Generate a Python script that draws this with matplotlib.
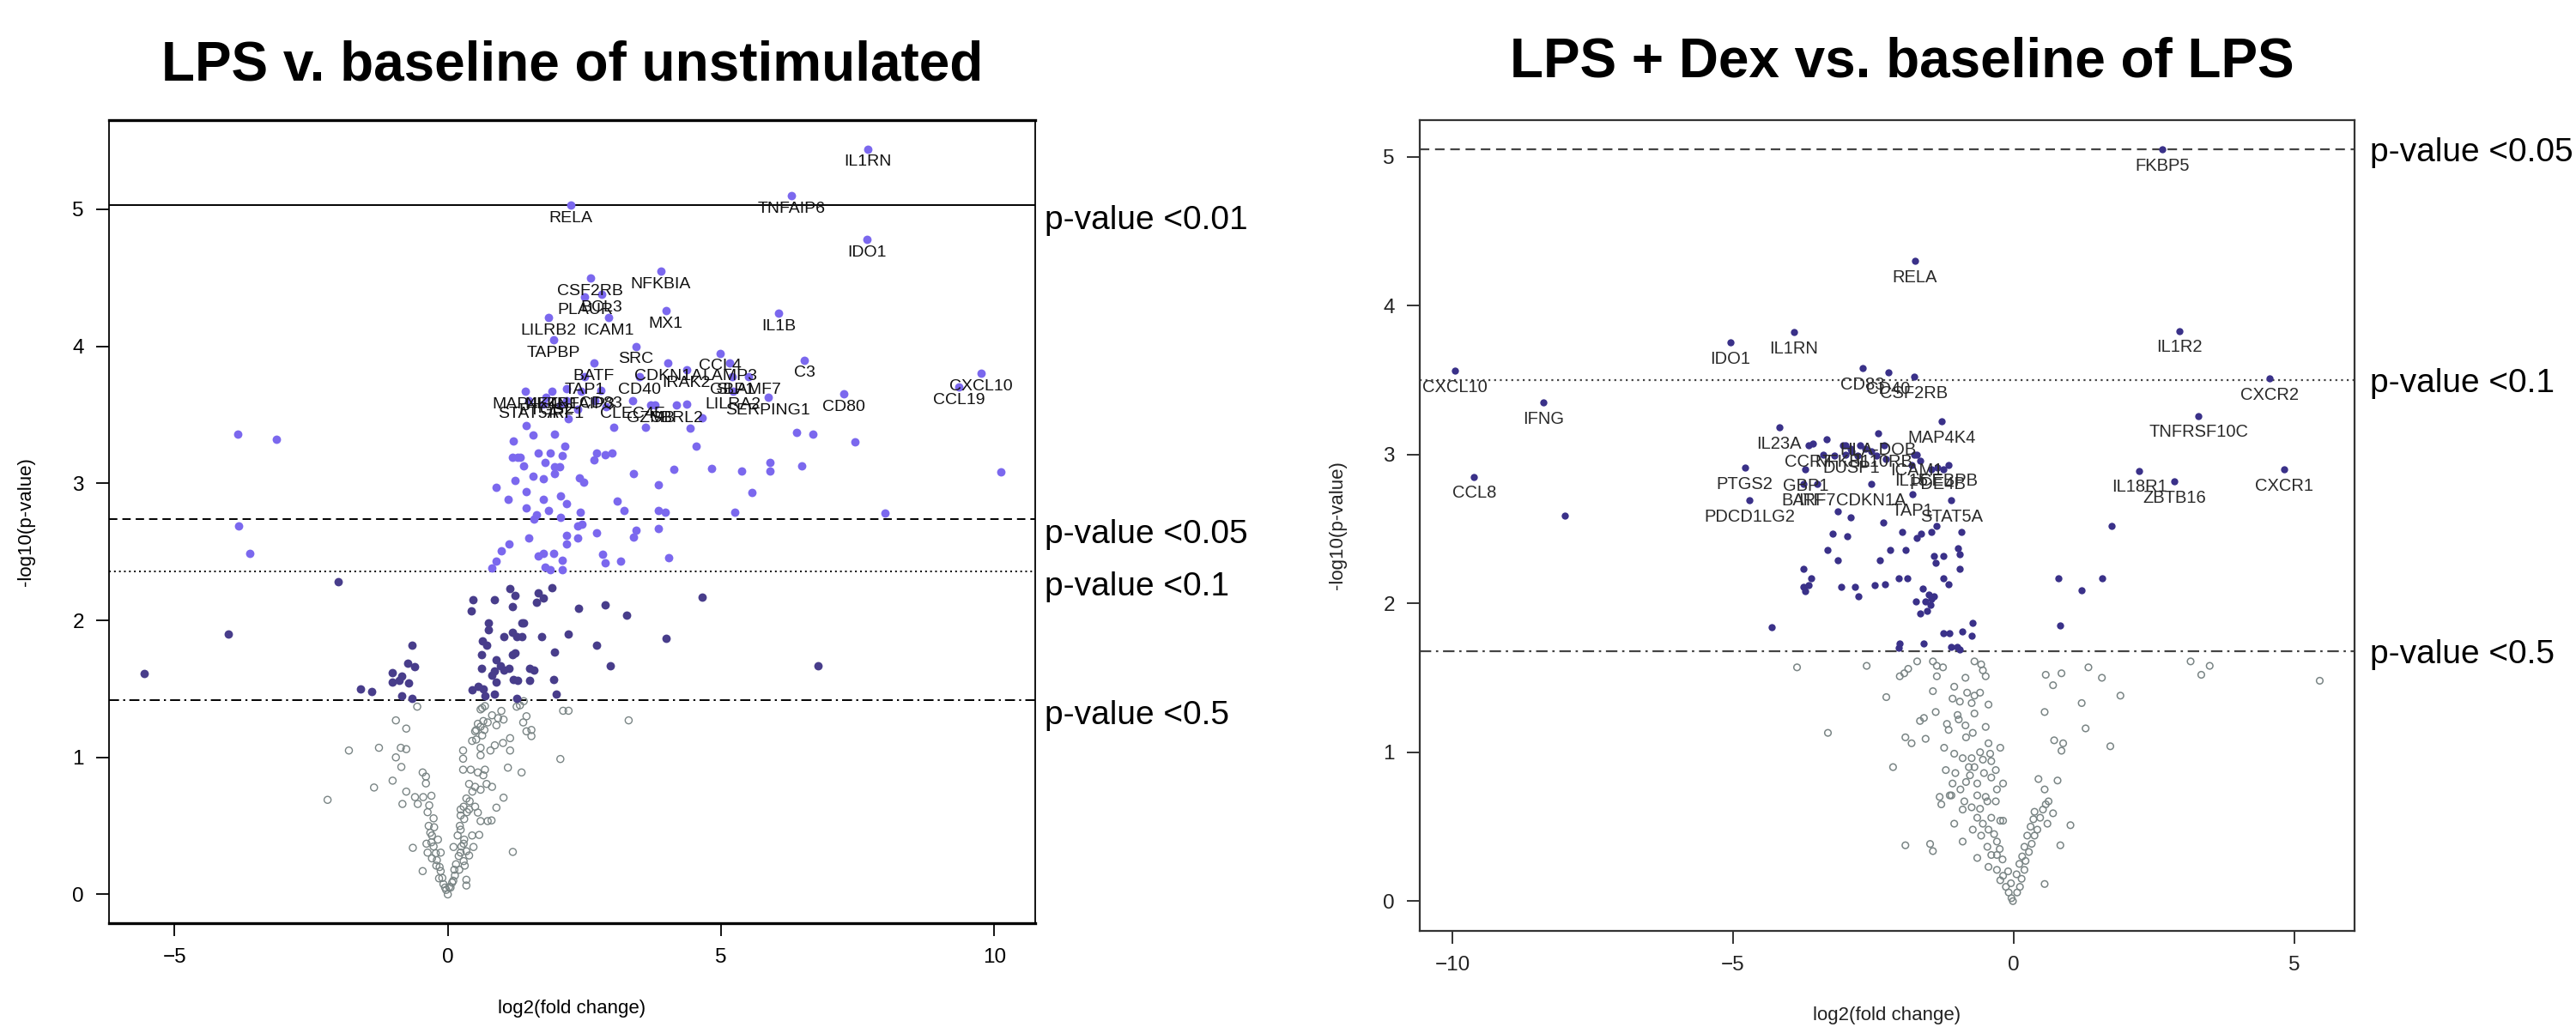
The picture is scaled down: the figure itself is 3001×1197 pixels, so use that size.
import matplotlib.pyplot as plt

plt.rcParams['font.family'] = ['Liberation Sans', 'DejaVu Sans']

#%% LPS v. unstimulated: (log2 fold change, -log10 p)
lps_points = [
    (10.12, 3.08), (8.00, 2.78), (7.45, 3.30), (6.68, 3.36), (6.38, 3.37), (6.47, 3.13),
    (-3.85, 3.36), (-3.13, 3.32), (-3.83, 2.69), (-3.62, 2.49), (-2.00, 2.28), (-4.01, 1.90),
    (-5.56, 1.61), (6.77, 1.67),
    (5.56, 2.93), (5.25, 2.79), (5.37, 3.09), (4.82, 3.11), (4.54, 3.27), (4.44, 3.40), (4.38, 3.58),
    (4.14, 3.10), (3.86, 2.99), (3.40, 3.07), (3.10, 2.87), (3.22, 2.80), (3.85, 2.80), (3.98, 2.79),
    (3.86, 2.67), (3.44, 2.66), (3.40, 2.61), (4.05, 2.46), (3.16, 2.43), (2.83, 2.48), (2.88, 2.42),
    (2.73, 2.64), (2.67, 3.17), (2.72, 3.22), (2.88, 3.21), (3.01, 3.22), (3.03, 3.41), (3.62, 3.41),
    (3.79, 3.57), (2.41, 3.04), (2.49, 3.01), (2.42, 2.79), (2.38, 2.69), (2.45, 2.70), (2.37, 2.60),
    (2.18, 2.62), (2.18, 2.56), (2.14, 3.27), (2.09, 3.20), (1.96, 3.36), (1.96, 3.12), (2.04, 3.12),
    (1.96, 3.07), (1.78, 3.15), (1.87, 3.22), (1.66, 3.22), (1.56, 3.35), (1.44, 3.42), (1.20, 3.31),
    (1.18, 3.19), (1.27, 3.19), (1.33, 3.19), (1.38, 3.13), (1.56, 3.05), (1.75, 3.03), (1.23, 3.02),
    (1.44, 2.94), (0.89, 2.97), (1.11, 2.88), (1.44, 2.82), (1.75, 2.88), (1.85, 2.80), (2.06, 2.91),
    (2.18, 2.85), (2.06, 2.75), (1.62, 2.77), (1.57, 2.74), (1.48, 2.60), (1.12, 2.56), (0.98, 2.51),
    (0.89, 2.43), (0.81, 2.38), (1.65, 2.47), (1.75, 2.49), (1.94, 2.49), (2.09, 2.44), (2.09, 2.37),
    (1.78, 2.39), (1.88, 2.37), (5.89, 3.15), (5.90, 3.09), (4.66, 3.48), (2.21, 3.47), (2.17, 3.69),
    (2.07, 3.57), (2.38, 3.54), (2.69, 3.60), (2.90, 3.56), (1.75, 3.58),
    (1.13, 2.23), (1.23, 2.18), (1.65, 2.20), (1.75, 2.16), (1.62, 2.13), (1.91, 2.24), (0.46, 2.15),
    (0.43, 2.07), (0.86, 2.15), (1.19, 2.10), (2.39, 2.09), (2.88, 2.11), (3.28, 2.04), (4.66, 2.17),
    (3.99, 1.87), (2.73, 1.82), (2.97, 1.67), (2.21, 1.90), (1.96, 1.77), (1.72, 1.88), (1.35, 1.98),
    (1.39, 1.98), (1.18, 1.91), (1.26, 1.88), (1.36, 1.88), (1.02, 1.88), (0.74, 1.98), (0.74, 1.93),
    (0.64, 1.85), (0.71, 1.82), (0.61, 1.75), (0.61, 1.65), (0.89, 1.71), (0.97, 1.67), (0.86, 1.63),
    (1.02, 1.64), (1.12, 1.65), (0.81, 1.60), (0.89, 1.55), (1.18, 1.75), (1.23, 1.76), (1.20, 1.57),
    (1.27, 1.56), (1.50, 1.65), (1.57, 1.64), (1.50, 1.56), (1.94, 1.57), (1.99, 1.46), (0.45, 1.49),
    (0.55, 1.52), (0.65, 1.50), (0.68, 1.45), (0.86, 1.46), (1.26, 1.43), (-0.65, 1.82), (-0.73, 1.69),
    (-0.61, 1.66), (-1.01, 1.62), (-0.84, 1.59), (-1.01, 1.55), (-0.89, 1.56), (-0.71, 1.54),
    (-1.60, 1.50), (-1.39, 1.48), (-0.84, 1.45), (-0.65, 1.43),
    (-0.56, 1.37), (-0.95, 1.27), (-0.76, 1.21), (-1.81, 1.05), (-1.26, 1.07), (-0.86, 1.07),
    (-0.76, 1.06), (-0.95, 1.00), (-0.85, 0.93), (-2.20, 0.69), (-1.35, 0.78), (-1.01, 0.83),
    (-0.76, 0.75), (-0.83, 0.66), (-0.46, 0.89), (-0.40, 0.86), (-0.40, 0.81), (-0.60, 0.71),
    (-0.55, 0.66), (-0.45, 0.71), (-0.30, 0.72), (-0.34, 0.65), (-0.37, 0.60), (-0.26, 0.555),
    (-0.25, 0.49), (-0.29, 0.43), (-0.18, 0.40), (-0.39, 0.37), (-0.26, 0.35), (-0.13, 0.305),
    (-0.37, 0.305), (-0.64, 0.34), (-0.46, 0.17), (-0.29, 0.263), (-0.21, 0.21), (-0.13, 0.17),
    (-0.16, 0.117), (-0.08, 0.075), (-0.03, 0.033), (0.025, 0.054), (0.08, 0.086), (0.13, 0.138),
    (0.21, 0.18), (0.31, 0.21), (0.34, 0.107), (0.34, 0.065), (0.0, 0.0), (0.18, 0.43), (0.235, 0.472),
    (0.29, 0.37), (0.235, 0.305), (0.34, 0.315), (0.39, 0.284), (0.47, 0.346), (0.29, 0.243),
    (0.105, 0.346), (0.445, 0.43), (0.575, 0.434), (0.235, 0.62), (0.29, 0.64), (0.235, 0.576),
    (0.39, 0.62), (0.50, 0.64), (0.55, 0.597), (0.60, 0.535), (0.73, 0.535), (0.80, 0.54), (0.34, 0.70),
    (0.50, 0.785), (0.39, 0.806), (0.60, 0.764), (0.71, 0.806), (0.81, 0.785), (0.65, 0.869),
    (0.68, 0.91), (0.55, 0.89), (0.42, 0.91), (0.28, 0.91), (0.28, 0.99), (0.28, 1.05), (0.445, 1.12),
    (0.52, 1.13), (0.50, 1.19), (0.60, 1.224), (0.67, 1.20), (0.63, 1.16), (0.60, 1.07), (0.60, 1.015),
    (0.78, 1.05), (0.86, 1.088), (1.01, 1.105), (1.14, 1.14), (1.14, 1.05), (0.81, 1.307),
    (0.92, 1.286), (0.89, 1.234), (1.02, 1.276), (0.98, 1.339), (0.73, 1.255), (0.55, 1.245),
    (0.65, 1.265), (0.52, 1.20), (0.60, 1.35), (0.68, 1.374), (0.63, 1.36), (1.26, 1.37), (1.32, 1.38),
    (1.39, 1.41), (1.44, 1.30), (1.38, 1.255), (1.44, 1.19), (1.53, 1.20), (1.53, 1.155), (1.10, 0.925),
    (1.35, 0.89), (1.02, 0.706), (0.89, 0.633), (1.19, 0.31), (2.06, 0.988), (2.11, 1.34), (2.21, 1.34),
    (3.31, 1.27), (-0.05, 0.05), (-0.10, 0.12), (-0.15, 0.20), (-0.20, 0.25), (-0.22, 0.30),
    (-0.30, 0.38), (-0.32, 0.45), (-0.35, 0.50), (0.05, 0.05), (0.10, 0.10), (0.12, 0.18), (0.15, 0.22),
    (0.20, 0.28), (0.25, 0.35), (0.30, 0.40), (0.22, 0.50), (0.30, 0.55), (0.35, 0.60), (0.40, 0.68),
    (0.45, 0.75),
]
lps_genes = ['IL1RN', 'TNFAIP6', 'RELA', 'IDO1', 'NFKBIA', 'CSF2RB', 'BCL3', 'PLAUR', 'MX1', 'IL1B',
             'LILRB2', 'ICAM1', 'TAPBP', 'SRC', 'CCL4', 'BATF', 'CDKN1A', 'C3', 'IRAK2', 'LAMP3',
             'SLAMF7', 'GBP1', 'CXCL10', 'TAP1', 'CD40', 'CCL19', 'MAP4K4', 'LILRA2', 'CD80',
             'SERPING1', 'CLEC4E', 'STAT5A', 'GZMB', 'SBRL2', 'NFKB1', 'TNFAIP3', 'CD83', 'IRF1', 'PTGS2']
lps_gene_fc = [7.68, 6.29, 2.25, 7.67, 3.90, 2.61, 2.82, 2.51, 3.99, 6.06,
               1.84, 2.94, 1.94, 3.44, 4.99, 2.67, 4.03, 6.53, 4.37, 5.16,
               5.51, 5.20, 9.76, 2.51, 3.51, 9.35, 1.42, 5.22, 7.24,
               5.86, 3.38, 1.48, 3.71, 4.19, 1.91, 2.44, 2.80, 2.17, 1.80]
lps_gene_p = [5.44, 5.10, 5.03, 4.78, 4.55, 4.50, 4.38, 4.36, 4.26, 4.24,
              4.21, 4.21, 4.05, 4.00, 3.95, 3.88, 3.88, 3.90, 3.83, 3.88,
              3.78, 3.78, 3.80, 3.78, 3.78, 3.70, 3.67, 3.67, 3.65,
              3.63, 3.60, 3.60, 3.57, 3.57, 3.67, 3.67, 3.68, 3.60, 3.63]
lps_cut = [5.03, 2.74, 2.36, 1.416]
lps_cut_text = ['p-value <0.01', 'p-value <0.05', 'p-value <0.1', 'p-value <0.5']

#%% LPS + Dex v. LPS
dex_points = [
    (-3.33, 3.10), (-3.58, 3.07), (-2.99, 3.06), (-2.90, 3.04), (-2.74, 3.06), (-2.64, 3.04),
    (-3.40, 3.00), (-3.20, 2.99), (-2.99, 3.00), (-2.79, 2.99), (-2.54, 3.02), (-2.44, 2.99),
    (-2.28, 2.97), (-1.77, 3.00), (-1.67, 2.96), (-1.47, 2.90), (-1.26, 2.90), (-3.14, 2.62),
    (-2.90, 2.58), (-2.32, 2.54), (-3.23, 2.47), (-2.96, 2.45), (-1.99, 2.48), (-1.72, 2.44),
    (-1.65, 2.47), (-1.47, 2.48), (-1.37, 2.52), (-0.93, 2.48), (-3.31, 2.36), (-3.14, 2.29),
    (-2.39, 2.29), (-2.20, 2.36), (-1.93, 2.36), (-1.42, 2.32), (-1.26, 2.32), (-1.39, 2.27),
    (-0.99, 2.37), (-0.97, 2.33), (-0.96, 2.23), (-3.74, 2.23), (-3.61, 2.17), (-3.74, 2.11),
    (-3.71, 2.08), (-3.66, 2.12), (-3.07, 2.11), (-2.83, 2.11), (-2.77, 2.05), (-2.47, 2.12),
    (-2.29, 2.13), (-2.05, 2.17), (-1.90, 2.17), (-1.26, 2.17), (-1.16, 2.13), (-1.62, 2.10),
    (-1.52, 2.06), (-1.47, 2.03), (-1.42, 2.05), (-1.57, 2.01), (-1.75, 2.01), (-1.67, 1.93),
    (-1.54, 1.95), (-1.49, 1.99), (-4.31, 1.84), (-0.73, 1.87), (-1.26, 1.80), (-1.14, 1.80),
    (-0.91, 1.81), (-0.75, 1.78), (-2.03, 1.73), (-2.05, 1.70), (-1.60, 1.73), (-1.11, 1.71),
    (-1.01, 1.71), (-0.96, 1.69), (1.74, 2.52), (0.79, 2.17), (1.57, 2.17), (1.21, 2.09),
    (0.82, 1.85), (-8.00, 2.59),
    (-3.86, 1.57), (-2.62, 1.58), (-2.27, 1.37), (-3.31, 1.13), (-2.15, 0.90), (-1.93, 0.375),
    (-1.49, 0.384), (-1.44, 0.336), (-2.03, 1.51), (-1.95, 1.53), (-1.88, 1.56), (-1.72, 1.61),
    (-1.44, 1.61), (-1.37, 1.58), (-1.26, 1.57), (-1.37, 1.51), (-1.44, 1.41), (-1.39, 1.27),
    (-1.67, 1.21), (-1.60, 1.23), (-1.93, 1.10), (-1.82, 1.06), (-1.57, 1.09), (-1.24, 1.03),
    (-1.19, 1.19), (-1.16, 1.15), (-1.06, 1.44), (-1.09, 1.36), (-0.96, 1.34), (-0.86, 1.50),
    (-0.75, 1.33), (-0.60, 1.40), (-0.70, 1.38), (-0.83, 1.40), (-0.70, 1.61), (-0.58, 1.59),
    (-0.55, 1.55), (-0.50, 1.51), (-0.45, 1.32), (-0.98, 1.22), (-0.86, 1.18), (-0.70, 1.26),
    (-0.73, 1.13), (-0.50, 1.17), (-1.06, 0.99), (-0.91, 0.96), (-0.75, 0.96), (-0.45, 1.06),
    (-0.24, 1.03), (-0.42, 0.99), (-0.40, 0.94), (-1.21, 0.88), (-1.04, 0.86), (-1.09, 0.79),
    (-1.11, 0.71), (-0.91, 0.615), (-0.88, 0.67), (-0.78, 0.845), (-0.80, 0.90), (-0.65, 0.79),
    (-0.53, 0.86), (-0.40, 0.83), (-0.32, 0.88), (-0.19, 0.79), (-0.30, 0.75), (-0.65, 0.71),
    (-0.47, 0.67), (-0.32, 0.67), (-1.32, 0.70), (-1.29, 0.65), (-1.14, 0.71), (-1.06, 0.52),
    (-0.91, 0.40), (-0.75, 0.63), (-0.65, 0.56), (-0.55, 0.52), (-0.40, 0.56), (-0.24, 0.54),
    (-0.19, 0.54), (-0.73, 0.48), (-0.58, 0.44), (-0.47, 0.365), (-0.65, 0.29), (-0.45, 0.23),
    (-0.40, 0.31), (-0.30, 0.40), (-0.30, 0.31), (-0.30, 0.21), (-0.19, 0.17), (-0.24, 0.14),
    (-0.14, 0.096), (-0.09, 0.058), (-0.04, 0.02), (-0.015, 0.0), (0.06, 0.058), (0.11, 0.096),
    (0.14, 0.15), (0.19, 0.21), (0.21, 0.27), (0.27, 0.33), (0.32, 0.385), (0.37, 0.44), (0.42, 0.48),
    (0.24, 0.44), (0.19, 0.365), (0.55, 0.115), (0.47, 0.56), (0.57, 0.65), (0.62, 0.67), (0.37, 0.60),
    (0.52, 0.615), (0.60, 0.52), (0.70, 0.59), (0.44, 0.82), (0.55, 0.75), (0.78, 0.81), (0.83, 0.375),
    (1.01, 0.51), (0.55, 1.27), (0.70, 1.45), (0.57, 1.52), (0.85, 1.53), (0.72, 1.08), (0.88, 1.06),
    (0.85, 1.01), (1.21, 1.33), (1.28, 1.16), (1.33, 1.57), (1.57, 1.50), (1.72, 1.04), (1.90, 1.38),
    (3.15, 1.61), (3.49, 1.58), (3.34, 1.52), (5.45, 1.48), (-1.00, 1.25), (-0.85, 1.10), (-0.60, 1.00),
    (-0.55, 0.95), (-0.70, 0.90), (-0.95, 0.75), (-0.85, 0.80), (-0.50, 0.70), (-0.60, 0.62),
    (-0.45, 0.48), (-0.35, 0.45), (-0.25, 0.35), (-0.20, 0.28), (-0.10, 0.20), (-0.05, 0.12),
    (0.05, 0.18), (0.10, 0.25), (0.15, 0.30), (0.30, 0.50), (0.35, 0.55),
]
dex_genes = ['FKBP5', 'RELA', 'IL1R2', 'IL1RN', 'IDO1', 'CXCL10', 'CXCR2', 'CD83', 'CD40', 'CSF2RB',
             'IFNG', 'TNFRSF10C', 'MAP4K4', 'IL23A', 'HLA-DOB', 'CCR7', 'NFKB1', 'DUSP1', 'IL10RB',
             'ICAM1', 'IL15', 'PDE4B', 'CEBPB', 'PTGS2', 'GBP1', 'IL18R1', 'CXCR1', 'CCL8', 'ZBTB16',
             'BATF', 'IRF7', 'CDKN1A', 'TAP1', 'STAT5A', 'PDCD1LG2']
dex_gene_fc = [2.64, -1.76, 2.95, -3.92, -5.05, -9.95, 4.56, -2.69, -2.23, -1.78,
               -8.38, 3.29, -1.29, -4.18, -2.42, -3.66, -3.04, -2.89, -2.31,
               -1.73, -1.82, -1.36, -1.16, -4.79, -3.71, 2.24, 4.82, -9.61, 2.86,
               -3.75, -3.50, -2.54, -1.80, -1.11, -4.71]
dex_gene_p = [5.05, 4.30, 3.83, 3.82, 3.75, 3.56, 3.51, 3.58, 3.55, 3.52,
              3.35, 3.26, 3.22, 3.18, 3.14, 3.06, 3.06, 3.02, 3.06,
              3.00, 2.93, 2.91, 2.93, 2.91, 2.90, 2.89, 2.90, 2.85, 2.82,
              2.80, 2.80, 2.80, 2.73, 2.69, 2.69]
dex_cut = [5.05, 3.50, 1.68]
dex_cut_text = ['p-value <0.05', 'p-value <0.1', 'p-value <0.5']

light = '#7b68ee'
dark = '#483d8b'
navy = '#3a3189'
grey = '#7a8585'
dashes = ['-', (0, (5, 3)), (0, (1, 2)), (0, (6, 2.5, 1.2, 2.5))]

fig = plt.figure(figsize=(30.01, 11.97), dpi=100)
ax1 = fig.add_axes([127 / 3001, 1 - 1076 / 1197, 1079 / 3001, 936 / 1197])
ax2 = fig.add_axes([1654 / 3001, 1 - 1085 / 1197, 1089 / 3001, 945 / 1197])


def split(pts, lo, hi=None):
    sel = [p for p in pts if p[1] > lo and (hi is None or p[1] <= hi)]
    return [p[0] for p in sel], [p[1] for p in sel]


#%% left panel
pts = lps_points + list(zip(lps_gene_fc, lps_gene_p))
x, y = split(pts, -1, lps_cut[3])
ax1.scatter(x, y, s=34, facecolors='none', edgecolors=grey, linewidths=1.0, zorder=2)
x, y = split(pts, lps_cut[3], lps_cut[2])
ax1.scatter(x, y, s=50, color=dark, lw=0, zorder=3)
x, y = split(pts, lps_cut[2])
ax1.scatter(x, y, s=50, color=light, lw=0, zorder=3)
for g, gx, gy in zip(lps_genes, lps_gene_fc, lps_gene_p):
    ax1.annotate(g, (gx, gy), xytext=(0, -5), textcoords='offset points', ha='center', va='top',
                 fontsize=14, color='#111111', clip_on=True, zorder=4)
for yv, ls, t in zip(lps_cut, dashes, lps_cut_text):
    ax1.axhline(yv, color='black', lw=1.4, ls=ls, zorder=1)
    ax1.annotate(t, (1, yv), xycoords=ax1.get_yaxis_transform(), xytext=(8, 0),
                 textcoords='offset points', ha='left', va='top', fontsize=28, annotation_clip=False)

ax1.set_xlim(-6.2, 10.75)
ax1.set_ylim(-0.21, 5.65)
ax1.set_xticks([-5, 0, 5, 10])
ax1.set_yticks([0, 1, 2, 3, 4, 5])
ax1.tick_params(labelsize=17.5, length=11, width=1.3, pad=10)
for s in ax1.spines.values():
    s.set_linewidth(1.3)
ax1.spines['top'].set_linewidth(2.4)
ax1.spines['bottom'].set_linewidth(2.4)

#%% right panel
pts = dex_points + list(zip(dex_gene_fc, dex_gene_p))
x, y = split(pts, -1, dex_cut[2])
ax2.scatter(x, y, s=30, facecolors='none', edgecolors=grey, linewidths=1.1, zorder=2)
x, y = split(pts, dex_cut[2])
ax2.scatter(x, y, s=36, color=navy, lw=0, zorder=3)
for g, gx, gy in zip(dex_genes, dex_gene_fc, dex_gene_p):
    ax2.annotate(g, (gx, gy), xytext=(0, -7), textcoords='offset points', ha='center', va='top',
                 fontsize=14.5, color='#2a2a2a', clip_on=True, zorder=4)
for yv, ls, t in zip(dex_cut, dashes[1:], dex_cut_text):
    ax2.axhline(yv, color='#444444', lw=1.6, ls=ls, zorder=1)
    ax2.annotate(t, (1, yv), xycoords=ax2.get_yaxis_transform(), xytext=(13, -10),
                 textcoords='offset points', ha='left', va='baseline', fontsize=28, annotation_clip=False)

ax2.set_xlim(-10.58, 6.07)
ax2.set_ylim(-0.2, 5.245)
ax2.set_xticks([-10, -5, 0, 5])
ax2.set_yticks([0, 1, 2, 3, 4, 5])
ax2.tick_params(labelsize=17.5, length=11, width=1.4, pad=10, color='#333333', labelcolor='#222222')
for s in ax2.spines.values():
    s.set_linewidth(1.6)
    s.set_color('#333333')

#%% titles and axis labels
fig.text(667 / 3001, 1 - 94 / 1197, 'LPS v. baseline of unstimulated', ha='center', va='baseline',
         fontsize=46, fontweight='bold')
fig.text(2216 / 3001, 1 - 89 / 1197, 'LPS + Dex vs. baseline of LPS', ha='center', va='baseline',
         fontsize=46, fontweight='bold')
fig.text(666 / 3001, 1 - 1176 / 1197, 'log2(fold change)', ha='center', va='center', fontsize=16)
fig.text(2198 / 3001, 1 - 1184 / 1197, 'log2(fold change)', ha='center', va='center', fontsize=16,
         color='#222222')
fig.text(31 / 3001, 1 - 608 / 1197, '-log10(p-value)', ha='center', va='center', rotation=90, fontsize=16)
fig.text(1558 / 3001, 1 - 612 / 1197, '-log10(p-value)', ha='center', va='center', rotation=90,
         fontsize=16, color='#222222')

fig.savefig('out.png', dpi=100)
